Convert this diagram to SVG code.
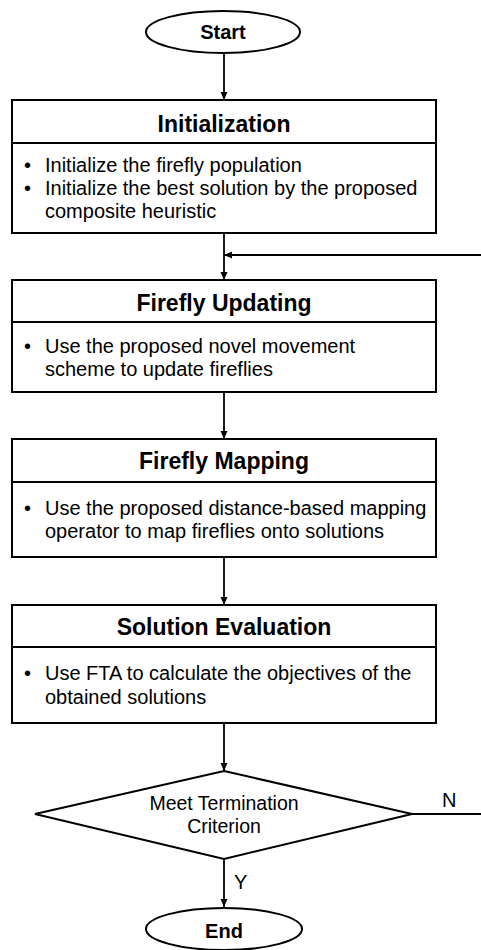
<svg xmlns="http://www.w3.org/2000/svg" width="481" height="950" viewBox="0 0 481 950">
<defs>
<marker id="ah" markerWidth="10" markerHeight="10" refX="9" refY="5" orient="auto" markerUnits="userSpaceOnUse">
<path d="M1,1.5 L9,5 L1,8.5 Z" fill="#000"/>
</marker>
<style>
.s{fill:#fff;stroke:#000;stroke-width:2}
.l{fill:none;stroke:#000;stroke-width:2}
.c{fill:none;stroke:#000;stroke-width:1.8}
.h{font-family:"Liberation Sans",Arial,sans-serif;font-weight:bold;font-size:23px;text-anchor:middle;fill:#000}
.t{font-family:"Liberation Sans",Arial,sans-serif;font-size:20px;fill:#000}
.tm{font-family:"Liberation Sans",Arial,sans-serif;font-size:19.5px;fill:#000;text-anchor:middle}
.tb{font-family:"Liberation Sans",Arial,sans-serif;font-weight:bold;font-size:20px;fill:#000;text-anchor:middle}
</style>
</defs>
<rect width="481" height="950" fill="#fff"/>
<g id="connectors">
<line class="c" x1="224" y1="53" x2="224" y2="100" marker-end="url(#ah)"/>
<line class="c" x1="224" y1="233" x2="224" y2="280" marker-end="url(#ah)"/>
<line class="c" x1="481" y1="255" x2="224" y2="255" marker-end="url(#ah)"/>
<line class="c" x1="224" y1="392" x2="224" y2="439" marker-end="url(#ah)"/>
<line class="c" x1="224" y1="557" x2="224" y2="605" marker-end="url(#ah)"/>
<line class="c" x1="224" y1="723" x2="224" y2="771" marker-end="url(#ah)"/>
<line class="c" x1="224" y1="859" x2="224" y2="907" marker-end="url(#ah)"/>
<line class="c" x1="412" y1="814" x2="481" y2="814"/>
<text class="t" x="442" y="807">N</text>
<text class="t" x="234" y="889">Y</text>
</g>
<g id="start">
<ellipse class="s" cx="223" cy="32" rx="77" ry="21"/>
<text class="tb" x="223" y="39">Start</text>
</g>
<g id="initialization">
<rect class="s" x="12" y="100" width="424" height="133"/>
<line class="l" x1="12" y1="143" x2="436" y2="143"/>
<text class="h" x="224" y="132">Initialization</text>
<text class="t" x="24" y="172">•</text>
<text class="t" x="45" y="172">Initialize the firefly population</text>
<text class="t" x="24" y="195">•</text>
<text class="t" x="45" y="195">Initialize the best solution by the proposed</text>
<text class="t" x="45" y="218">composite heuristic</text>
</g>
<g id="updating">
<rect class="s" x="12" y="280" width="424" height="112"/>
<line class="l" x1="12" y1="322" x2="436" y2="322"/>
<text class="h" x="224" y="311">Firefly Updating</text>
<text class="t" x="24" y="353">•</text>
<text class="t" x="45" y="353">Use the proposed novel movement</text>
<text class="t" x="45" y="376">scheme to update fireflies</text>
</g>
<g id="mapping">
<rect class="s" x="12" y="439" width="424" height="118"/>
<line class="l" x1="12" y1="482" x2="436" y2="482"/>
<text class="h" x="224" y="469">Firefly Mapping</text>
<text class="t" x="24" y="515">•</text>
<text class="t" x="45" y="515">Use the proposed distance-based mapping</text>
<text class="t" x="45" y="538">operator to map fireflies onto solutions</text>
</g>
<g id="evaluation">
<rect class="s" x="12" y="605" width="424" height="118"/>
<line class="l" x1="12" y1="647" x2="436" y2="647"/>
<text class="h" x="224" y="635">Solution Evaluation</text>
<text class="t" x="24" y="680">•</text>
<text class="t" x="45" y="680">Use FTA to calculate the objectives of the</text>
<text class="t" x="45" y="704">obtained solutions</text>
</g>
<g id="decision">
<polygon class="s" points="224,771 412,814 224,859 35,814"/>
<text class="tm" x="224" y="810">Meet Termination</text>
<text class="tm" x="224" y="833">Criterion</text>
</g>
<g id="end">
<ellipse class="s" cx="224" cy="929" rx="78" ry="21"/>
<text class="tb" x="224" y="938">End</text>
</g>
</svg>
